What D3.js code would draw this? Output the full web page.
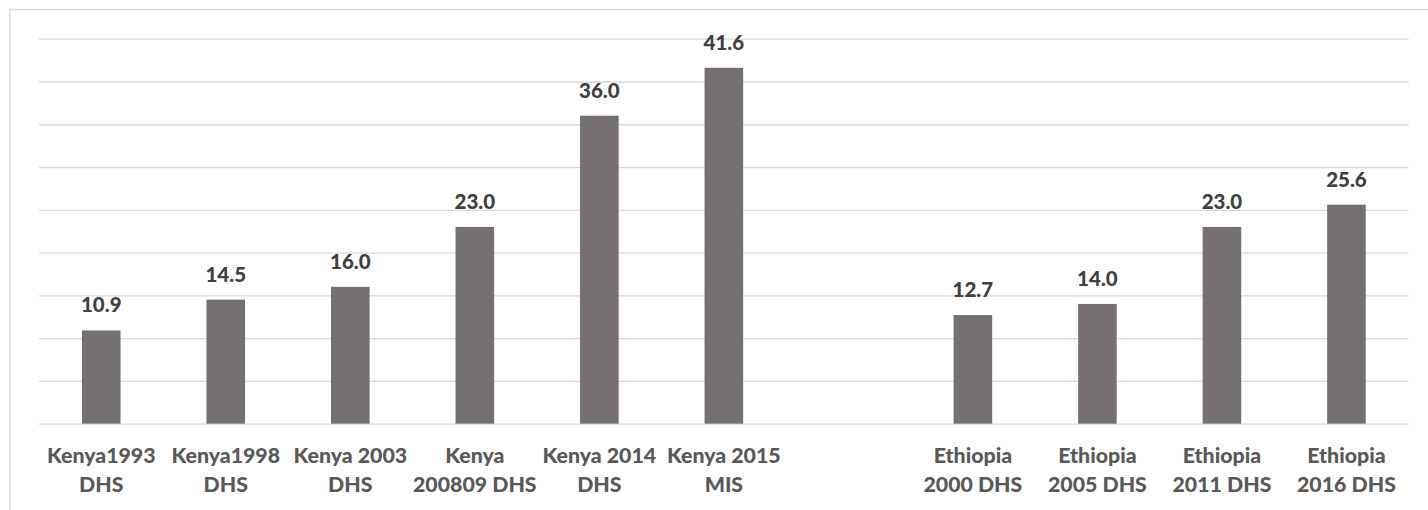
<!DOCTYPE html>
<html>
<head>
<meta charset="utf-8">
<script src="https://cdn.jsdelivr.net/npm/d3@7"></script>
<style>
  html, body { margin: 0; padding: 0; background: #fff; }
  svg { display: block; }
  text { font-family: Lato, "Open Sans", sans-serif; font-weight: 900; }
</style>
</head>
<body>
<svg id="chart" width="1428" height="510"></svg>
<script>
// Survey rounds (an empty slot separates the Kenya and Ethiopia groups)
const categories = ["k1993", "k1998", "k2003", "k2008", "k2014", "k2015", "gap", "e2000", "e2005", "e2011", "e2016"];
const categoryLabels = [
  ["Kenya1993", "DHS"],
  ["Kenya1998", "DHS"],
  ["Kenya 2003", "DHS"],
  ["Kenya", "200809 DHS"],
  ["Kenya 2014", "DHS"],
  ["Kenya 2015", "MIS"],
  ["", ""],
  ["Ethiopia", "2000 DHS"],
  ["Ethiopia", "2005 DHS"],
  ["Ethiopia", "2011 DHS"],
  ["Ethiopia", "2016 DHS"]
];
const values = [10.9, 14.5, 16.0, 23.0, 36.0, 41.6, null, 12.7, 14.0, 23.0, 25.6];
const yTicks = [0, 5, 10, 15, 20, 25, 30, 35, 40, 45];

const svg = d3.select("#chart");
const W = 1428, H = 510;
const plot = { left: 39, right: 1408.7, top: 38.7, bottom: 423.7 };

// outer chart-area border
svg.append("rect")
  .attr("x", 10).attr("y", 9.5)
  .attr("width", W + 20).attr("height", H + 20)
  .attr("fill", "none").attr("stroke", "#d9d9d9").attr("stroke-width", 1.5);

const x = d3.scaleBand()
  .domain(categories)
  .range([plot.left, plot.right])
  .paddingInner(0.69)
  .paddingOuter(0.345);

const y = d3.scaleLinear()
  .domain([0, 45])
  .range([plot.bottom, plot.top]);

// horizontal gridlines
const grid = svg.append("g")
  .attr("transform", `translate(${plot.left},0)`)
  .call(d3.axisLeft(y).tickValues(yTicks).tickSize(-(plot.right - plot.left)).tickFormat(""));
grid.select(".domain").remove();
grid.selectAll(".tick line").attr("stroke", "#d9d9d9").attr("stroke-width", 1.3);

// bars
const rows = categories.map((c, i) => ({ key: c, value: values[i], label: categoryLabels[i] }))
  .filter(d => d.value !== null);

svg.append("g").selectAll("rect")
  .data(rows)
  .join("rect")
  .attr("x", d => x(d.key))
  .attr("width", x.bandwidth())
  .attr("y", d => y(d.value))
  .attr("height", d => y(0) - y(d.value))
  .attr("fill", "#767171");

// value labels above bars
svg.append("g").selectAll("text")
  .data(rows)
  .join("text")
  .attr("x", d => x(d.key) + x.bandwidth() / 2)
  .attr("y", d => y(d.value) - 18)
  .attr("text-anchor", "middle")
  .attr("font-size", 20.5)
  .attr("fill", "#404040")
  .text(d => d.value.toFixed(1));

// category axis (two-line labels)
const xAxis = svg.append("g")
  .attr("transform", `translate(0,${plot.bottom})`)
  .call(d3.axisBottom(x).tickSize(0).tickFormat(""));
xAxis.select(".domain").remove();
xAxis.selectAll(".tick").each(function(d, i) {
  const lines = categoryLabels[categories.indexOf(d)];
  const t = d3.select(this).append("text")
    .attr("text-anchor", "middle")
    .attr("font-size", 21.3)
    .attr("fill", "#595959");
  lines.forEach((ln, j) => {
    t.append("tspan").attr("x", 0).attr("y", 39 + j * 29).text(ln);
  });
});
</script>
</body>
</html>
